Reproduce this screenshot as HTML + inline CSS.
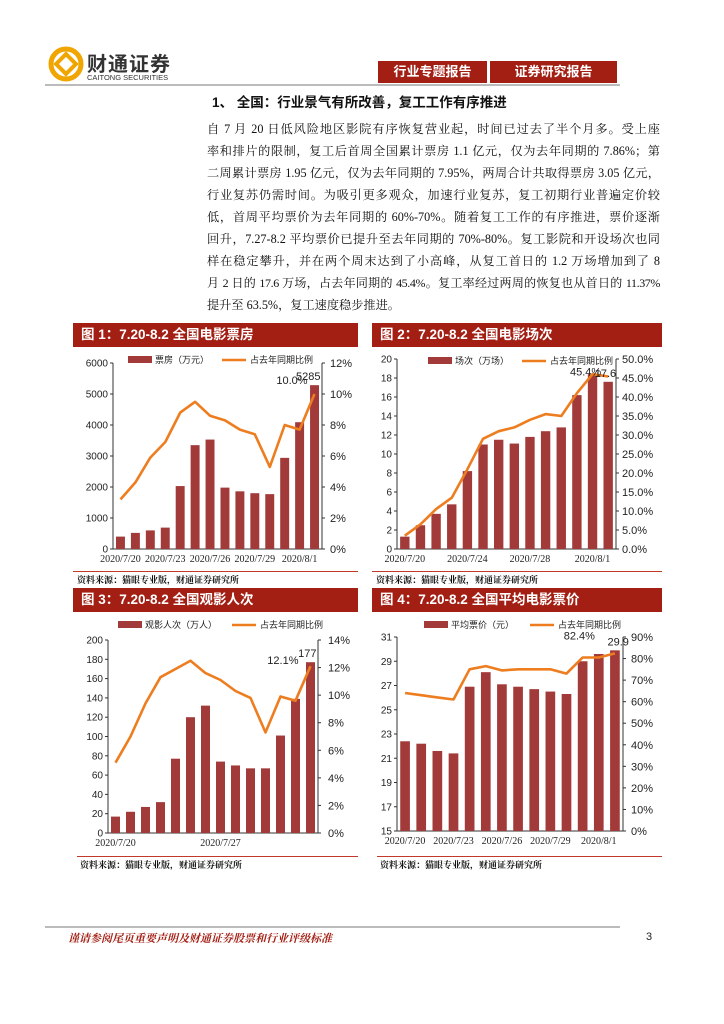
<!DOCTYPE html>
<html><head><meta charset="utf-8">
<style>
body{margin:0;background:#fff}
#page{position:relative;width:724px;height:1024px;background:#fff;overflow:hidden;font-family:"Liberation Sans","Noto Sans CJK SC",sans-serif}
.abs{position:absolute}
.para div{position:absolute;left:207px;width:453px;font-family:"Liberation Serif","Noto Serif CJK SC",serif;font-size:12.2px;color:#111;text-align:justify;text-align-last:justify;white-space:nowrap;line-height:16px}
.tbar{position:absolute;height:24px;background:#a31f14;color:#fff;font-weight:bold;font-size:13.5px;line-height:24px;padding-left:8px;box-sizing:border-box;font-family:"Liberation Sans","Noto Sans CJK SC",sans-serif}
.src{position:absolute;font-size:9px;font-weight:bold;color:#111;font-family:"Liberation Serif","Noto Serif CJK SC",serif}
.rline{position:absolute;height:2px;background:#c0392b}
</style></head><body>
<div id="page">
<svg class="abs" style="left:48px;top:46px" width="36" height="36" viewBox="0 0 36 36">
<circle cx="18" cy="18" r="15" fill="none" stroke="#f0a500" stroke-width="5"/>
<rect x="11" y="11" width="14" height="14" transform="rotate(45 18 18)" fill="none" stroke="#f0a500" stroke-width="4"/>
</svg>
<div class="abs" style="left:87px;top:48px;font-size:20px;font-weight:bold;color:#333;letter-spacing:1px">财通证券</div>
<div class="abs" style="left:87px;top:73px;font-size:7.5px;color:#333">CAITONG SECURITIES</div>
<div class="abs" style="left:378px;top:61px;width:109px;height:22px;background:#a31f14;color:#fff;font-weight:bold;font-size:13px;line-height:22px;text-align:center">行业专题报告</div>
<div class="abs" style="left:490px;top:61px;width:127px;height:22px;background:#a31f14;color:#fff;font-weight:bold;font-size:13px;line-height:22px;text-align:center">证券研究报告</div>
<div class="abs" style="left:45px;top:84px;width:575px;height:2px;background:#bbb"></div>
<div class="abs" style="left:212px;top:91px;font-size:13.5px;font-weight:bold;color:#111">1、 全国：行业景气有所改善，复工工作有序推进</div>
<div class="para">
<div style="top:121px">自 7 月 20 日低风险地区影院有序恢复营业起，时间已过去了半个月多。受上座</div>
<div style="top:143px">率和排片的限制，复工后首周全国累计票房 1.1 亿元，仅为去年同期的 7.86%；第</div>
<div style="top:165px">二周累计票房 1.95 亿元，仅为去年同期的 7.95%，两周合计共取得票房 3.05 亿元，</div>
<div style="top:187px">行业复苏仍需时间。为吸引更多观众，加速行业复苏，复工初期行业普遍定价较</div>
<div style="top:209px">低，首周平均票价为去年同期的 60%-70%。随着复工工作的有序推进，票价逐渐</div>
<div style="top:231px">回升，7.27-8.2 平均票价已提升至去年同期的 70%-80%。复工影院和开设场次也同</div>
<div style="top:253px">样在稳定攀升，并在两个周末达到了小高峰，从复工首日的 1.2 万场增加到了 8</div>
<div style="top:275px;letter-spacing:-0.4px;font-size:12px">月 2 日的 17.6 万场，占去年同期的 45.4%。复工率经过两周的恢复也从首日的 11.37%</div>
<div style="top:297px;text-align-last:left">提升至 63.5%，复工速度稳步推进。</div>
</div>

<div class="tbar" style="left:73px;top:323px;width:285px">图 1：7.20-8.2 全国电影票房</div>
<div class="tbar" style="left:372px;top:323px;width:290px">图 2：7.20-8.2 全国电影场次</div>
<div class="tbar" style="left:73px;top:588px;width:285px">图 3：7.20-8.2 全国观影人次</div>
<div class="tbar" style="left:372px;top:588px;width:290px">图 4：7.20-8.2 全国平均电影票价</div>

<div class="rline" style="left:73px;top:571px;width:285px;height:1px"></div>
<div class="rline" style="left:372px;top:571px;width:290px;height:1px"></div>
<div class="src" style="left:77px;top:573px">资料来源：猫眼专业版，财通证券研究所</div>
<div class="src" style="left:376px;top:573px">资料来源：猫眼专业版，财通证券研究所</div>
<div class="rline" style="left:77px;top:856px;width:281px;height:1px"></div>
<div class="rline" style="left:377px;top:856px;width:285px;height:1px"></div>
<div class="src" style="left:80px;top:858px">资料来源：猫眼专业版，财通证券研究所</div>
<div class="src" style="left:380px;top:858px">资料来源：猫眼专业版，财通证券研究所</div>

<div class="abs" style="left:45px;top:926px;width:575px;height:2px;background:#bbb"></div>
<div class="abs" style="left:68px;top:930px;font-size:11px;font-weight:bold;font-style:italic;color:#a31f14;font-family:'Liberation Serif','Noto Serif CJK SC',serif">谨请参阅尾页重要声明及财通证券股票和行业评级标准</div>
<div class="abs" style="left:646px;top:931px;font-size:11px;color:#222">3</div>

<svg id="charts" class="abs" style="left:0;top:0" width="724" height="1024"></svg>
</div>
<script>
// Chart 1: box office
const c1Values = [400, 520, 600, 690, 2030, 3350, 3530, 1980, 1860, 1800, 1770, 2940, 4090, 5285];
const c1Pct = [3.2, 4.3, 5.9, 6.9, 8.8, 9.5, 8.6, 8.3, 7.7, 7.4, 5.3, 8.0, 7.7, 10.0];
const c1Labels = ["2020/7/20","2020/7/23","2020/7/26","2020/7/29","2020/8/1"];
const c1LabelIdx = [0,3,6,9,12];
// Chart 2: screenings
const c2Values = [1.3, 2.5, 3.7, 4.7, 8.2, 11.0, 11.5, 11.1, 11.8, 12.4, 12.8, 16.2, 18.4, 17.6];
const c2Pct = [3.5, 6.5, 10.5, 13.5, 21.0, 29.0, 31.0, 32.0, 34.0, 35.5, 35.0, 41.0, 46.0, 45.4];
const c2Labels = ["2020/7/20","2020/7/24","2020/7/28","2020/8/1"];
const c2LabelIdx = [0,4,8,12];
// Chart 3: admissions
const c3Values = [17, 22, 27, 32, 77, 120, 132, 74, 70, 67, 67, 101, 139, 177];
const c3Pct = [5.1, 7.0, 9.4, 11.3, 11.9, 12.5, 11.6, 11.1, 10.3, 9.8, 7.3, 9.9, 9.6, 12.1];
const c3Labels = ["2020/7/20","2020/7/27"];
const c3LabelIdx = [0,7];
// Chart 4: average ticket price
const c4Values = [22.4, 22.2, 21.6, 21.4, 26.9, 28.1, 27.1, 26.9, 26.7, 26.5, 26.3, 29.0, 29.6, 29.9];
const c4Pct = [64, 63, 62, 61, 75, 76.5, 74.5, 75, 75, 75, 73, 80.5, 80.5, 82.4];
const c4Labels = ["2020/7/20","2020/7/23","2020/7/26","2020/7/29","2020/8/1"];
const c4LabelIdx = [0,3,6,9,12];

const NS="http://www.w3.org/2000/svg";
const root=document.getElementById('charts');
function mk(tag,attrs,parent){const e=document.createElementNS(NS,tag);for(const k in attrs)e.setAttribute(k,attrs[k]);(parent||root).appendChild(e);return e;}
function txt(x,y,s,size,anchor,parent,fam){const t=mk('text',{x:x,y:y,'font-size':size,'text-anchor':anchor||'start','font-family':fam||'"Liberation Sans","Noto Sans CJK SC",sans-serif',fill:'#222'},parent);t.textContent=s;return t;}

function drawChart(id,cfg,values,pct,labels,labelIdx){
  const g=mk('g',{});
  
  
  const n=values.length, slot=(cfg.x1-cfg.x0)/n;
  const yL=v=>cfg.yBot-(v-cfg.lmin)/(cfg.lmax-cfg.lmin)*(cfg.yBot-cfg.yTop);
  const yR=v=>cfg.yBot-v/cfg.rmax*(cfg.yBot-cfg.yTop);
  const xc=i=>cfg.x0+slot*(i+0.5);
  const ax=mk('line',{x1:cfg.x0,y1:cfg.yTop,x2:cfg.x0,y2:cfg.yBot,stroke:'#333','stroke-width':1},g);
  
  const ar=mk('line',{x1:cfg.x1,y1:cfg.yTop,x2:cfg.x1,y2:cfg.yBot,stroke:'#333','stroke-width':1},g);
  
  const xa=mk('line',{x1:cfg.x0,y1:cfg.yBot,x2:cfg.x1,y2:cfg.yBot,stroke:'#333','stroke-width':1},g);
  
  for(let v=cfg.lmin;v<=cfg.lmax+1e-9;v+=cfg.lstep){
    mk('line',{x1:cfg.x0-3,y1:yL(v),x2:cfg.x0,y2:yL(v),stroke:'#333'},g);
    const t=txt(cfg.x0-5,yL(v)+3.5,String(v),10,'end',g);
    
  }
  for(let v=0;v<=cfg.rmax+1e-9;v+=cfg.rstep){
    mk('line',{x1:cfg.x1,y1:yR(v),x2:cfg.x1+3,y2:yR(v),stroke:'#333'},g);
    const t=txt(cfg.rx,yR(v)+4,v.toFixed(cfg.rdec)+'%',11,'start',g);
    
  }
  values.forEach((v,i)=>{
    const b=mk('rect',{x:xc(i)-slot*0.3,y:yL(v),width:slot*0.6,height:cfg.yBot-yL(v),fill:'#a33a3a'},g);
    
  });
  const pts=pct.map((p,i)=>xc(i).toFixed(1)+','+yR(p).toFixed(1)).join(' ');
  const l=mk('polyline',{points:pts,fill:'none',stroke:'#ed7d1f','stroke-width':2.6,'stroke-linejoin':'round'},g);
  
  labels.forEach((s,k)=>{
    const t=txt(xc(labelIdx[k]),cfg.yBot+13,s,10,'middle',g,'"Liberation Serif",serif');
    
  });
  const lg=cfg.leg;
  const lr=mk('rect',{x:lg.x,y:lg.y-4,width:24,height:7,fill:'#a33a3a'},g);
  
  const lt=txt(lg.x+27,lg.y+3,lg.bar,9,'start',g);
  
  const ll=mk('line',{x1:lg.x2,y1:lg.y,x2:lg.x2+24,y2:lg.y,stroke:'#ed7d1f','stroke-width':2.6},g);
  
  const lt2=txt(lg.x2+28,lg.y+3,'占去年同期比例',9,'start',g);
  
  const last=n-1;
  const a1=txt(xc(last)+cfg.vOff,yL(values[last])-5,String(values[last]),11,'end',g);
  
  const a2=txt(xc(last)+cfg.pOffX,yR(pct[last])+cfg.pOffY,pct[last].toFixed(1)+'%',11,'end',g);
  
}
drawChart('chart1-box-office',{x0:113,x1:322,yTop:363,yBot:549,lmin:0,lmax:6000,lstep:1000,rmax:12,rstep:2,rdec:0,rx:330,
  leg:{x:128,y:360,x2:222,bar:'票房（万元）'},vOff:6,pOffX:-7,pOffY:-10},c1Values,c1Pct,c1Labels,c1LabelIdx);
drawChart('chart2-screenings',{x0:397,x1:616,yTop:359,yBot:549,lmin:0,lmax:20,lstep:2,rmax:50,rstep:5,rdec:1,rx:622,
  leg:{x:428,y:361,x2:522,bar:'场次（万场）'},vOff:8,pOffX:-7,pOffY:-1},c2Values,c2Pct,c2Labels,c2LabelIdx);
drawChart('chart3-admissions',{x0:108,x1:318,yTop:640,yBot:833,lmin:0,lmax:200,lstep:20,rmax:14,rstep:2,rdec:0,rx:328,
  leg:{x:118,y:625,x2:232,bar:'观影人次（万人）'},vOff:6,pOffX:-12,pOffY:-2},c3Values,c3Pct,c3Labels,c3LabelIdx);
drawChart('chart4-ticket-price',{x0:397,x1:623,yTop:637,yBot:831,lmin:15,lmax:31,lstep:2,rmax:90,rstep:10,rdec:0,rx:631,
  leg:{x:424,y:625,x2:530,bar:'平均票价（元）'},vOff:14,pOffX:-20,pOffY:-14},c4Values,c4Pct,c4Labels,c4LabelIdx);
</script>
</body></html>
